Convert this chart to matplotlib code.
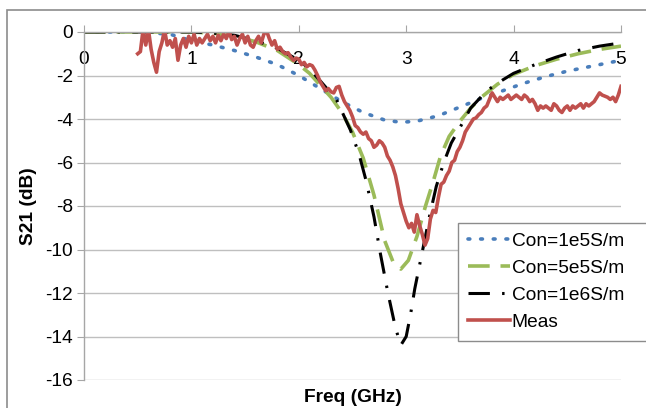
import matplotlib
matplotlib.use("Agg")
import matplotlib.pyplot as plt
from matplotlib.patches import Rectangle
import numpy as np

plt.rcParams['font.family'] = ['Liberation Sans', 'DejaVu Sans']

# simulated curves
f_1e5 = [0, 0.5, 0.8, 1.0, 1.2, 1.4, 1.6, 1.8, 2.0, 2.2, 2.4, 2.6, 2.8, 2.95,
         3.1, 3.3, 3.5, 3.7, 3.9, 4.1, 4.3, 4.5, 4.7, 4.9, 5.0]
s_1e5 = [0, 0, -0.1, -0.4, -0.6, -0.85, -1.15, -1.5, -2.0, -2.6, -3.2, -3.7,
         -4.05, -4.15, -4.1, -3.85, -3.45, -3.05, -2.7, -2.35, -2.05, -1.8,
         -1.6, -1.4, -1.3]

f_5e5 = [0, 1.0, 1.2, 1.4, 1.6, 1.8, 2.0, 2.1, 2.2, 2.3, 2.4, 2.5, 2.6, 2.7,
         2.8, 2.88, 2.95, 3.02, 3.1, 3.18, 3.25, 3.32, 3.4, 3.5, 3.6, 3.7,
         3.85, 4.0, 4.2, 4.4, 4.6, 4.8, 5.0]
s_5e5 = [0, 0, -0.05, -0.2, -0.45, -0.85, -1.5, -1.9, -2.45, -3.0, -3.7,
         -4.6, -5.8, -7.5, -9.6, -10.6, -10.9, -10.5, -9.4, -8.0, -6.9, -5.7,
         -4.8, -4.1, -3.5, -3.0, -2.4, -1.95, -1.55, -1.25, -1.0, -0.8, -0.65]

f_1e6 = [0, 1.0, 1.2, 1.4, 1.6, 1.8, 2.0, 2.1, 2.2, 2.35, 2.48, 2.56, 2.63,
         2.7, 2.76, 2.83, 2.9, 2.95, 3.0, 3.04, 3.08, 3.15, 3.22, 3.28, 3.35,
         3.42, 3.5, 3.6, 3.75, 3.9, 4.0, 4.2, 4.4, 4.6, 4.8, 5.0]
s_1e6 = [0, 0, -0.05, -0.15, -0.4, -0.75, -1.3, -1.7, -2.25, -3.1, -4.5,
         -5.6, -6.9, -8.5, -10.2, -12.0, -13.6, -14.4, -14.0, -13.0, -11.8,
         -10.1, -8.4, -7.1, -6.0, -5.1, -4.4, -3.5, -2.7, -2.2, -1.9, -1.5,
         -1.15, -0.85, -0.65, -0.5]

# measurement, 0.5 .. 5 GHz sweep, 25 MHz step
s_meas = [
    -1.0, -0.9, 0.1, -0.6, 0.1, -0.8, -1.4, -1.85, -0.9, -0.5,
    0.1, -0.6, -0.4, -0.7, -0.3, -1.3, -0.6, -0.3, -0.7, -0.2,
    -0.5, -0.1, -0.6, -0.3, -0.5, -0.3, -0.1, -0.4, -0.2, -0.5,
    -0.15, -0.4, -0.1, -0.3, 0.05, -0.35, -0.2, -0.6, -0.3, -0.1,
    -0.5, -0.2, -0.6, -0.7, -0.4, -0.2, -0.5, -0.1, 0.05, -0.3,
    -0.6, -0.4, -0.8, -0.7, -0.9, -1.0, -0.95, -1.15, -1.3, -1.2,
    -1.25, -1.5, -1.4, -1.6, -1.5, -1.55, -1.75, -2.0, -2.3, -2.5,
    -2.7, -2.6, -2.75, -2.8, -2.55, -2.5, -2.9, -3.2, -3.4, -3.6,
    -3.9, -4.3, -4.4, -4.6, -4.7, -4.6, -4.9, -5.0, -5.3, -5.2,
    -5.0, -5.1, -5.3, -5.7, -5.9, -6.2, -6.6, -7.2, -7.9, -8.3,
    -8.7, -9.0, -8.8, -9.2, -8.4, -8.9, -9.3, -9.8, -9.5, -8.6,
    -8.2, -8.3, -7.6, -7.0, -6.9, -6.6, -6.4, -6.0, -5.9, -5.5,
    -5.3, -5.0, -4.6, -4.4, -4.2, -4.0, -3.95, -3.8, -3.7, -3.5,
    -3.4, -3.1, -2.8, -3.0, -3.2, -3.0, -3.1, -3.0, -2.9, -3.1,
    -3.0, -2.9, -3.0, -3.1, -2.9, -3.0, -3.2, -3.1, -3.3, -3.6,
    -3.4, -3.5, -3.4, -3.5, -3.6, -3.3, -3.4, -3.6, -3.7, -3.5,
    -3.4, -3.6, -3.4, -3.5, -3.4, -3.3, -3.5, -3.3, -3.4, -3.3,
    -3.2, -3.0, -2.8, -2.9, -2.95, -3.0, -3.1, -3.0, -3.2, -2.9,
    -2.5]
f_meas = np.linspace(0.5, 5.0, len(s_meas))

xticks = [0, 1, 2, 3, 4, 5]
yticks = [0, -2, -4, -6, -8, -10, -12, -14, -16]

W, H = 646, 408
fs = 13.8
fig = plt.figure(figsize=(W / 100, H / 100), dpi=100, facecolor='w')
# outer chart frame (only left/top edges fall inside the picture)
fig.patches.append(Rectangle((7 / W, -0.05), 1.2, 1 - 10 / H + 0.05,
                             transform=fig.transFigure, fill=False,
                             ec='#8c8c8c', lw=1.2))

ax = fig.add_axes([84 / W, 1 - 380 / H, 537 / W, 348 / H])
ax.set_xlim(0, 5)
ax.set_ylim(-16, 0)

grey = '#bfbfbf'
ax.yaxis.grid(True, color=grey, lw=1)
ax.set_axisbelow(True)
for s in ['right', 'bottom']:
    ax.spines[s].set_visible(False)
for s in ['left', 'top']:
    ax.spines[s].set_color('#a6a6a6')
    ax.spines[s].set_linewidth(1)

ax.set_xticks(xticks)
ax.set_yticks(yticks)
ax.set_yticklabels([str(v) for v in yticks])
ax.xaxis.set_ticks_position('top')
ax.tick_params(axis='x', direction='out', length=5, color='#a6a6a6',
               labelsize=fs, pad=-31)
ax.tick_params(axis='y', direction='out', length=5, color='#a6a6a6',
               labelsize=fs, pad=3)

ax.plot(f_1e5, s_1e5, ls=(0, (0.5, 3.0)), dash_capstyle='round',
        color='#4a7ebb', lw=2.6, label='Con=1e5S/m')
ax.plot(f_5e5, s_5e5, ls=(0, (6, 3)), color='#9bbb59', lw=2.6,
        label='Con=5e5S/m')
ax.plot(f_1e6, s_1e6, ls=(0, (7, 4, 0.8, 4)), color='black', lw=2.2,
        label='Con=1e6S/m')
ax.plot(f_meas, s_meas, color='#c0504d', lw=2.6, label='Meas')

ax.set_xlabel('Freq (GHz)', fontsize=fs, fontweight='bold')
ax.xaxis.set_label_position('bottom')
ax.xaxis.set_label_coords(0.5, -0.025, transform=ax.transAxes)
ax.xaxis.label.set_va('top')
ax.set_ylabel('S21 (dB)', fontsize=fs, fontweight='bold', labelpad=6)

leg = ax.legend(loc='upper left',
                bbox_to_anchor=(458 / W, 1 - 337 / H, 200 / W, 114 / H),
                bbox_transform=fig.transFigure, mode='expand', fontsize=fs,
                handlelength=2.2, handletextpad=0.1, labelspacing=0.5,
                borderpad=0.5, borderaxespad=0, fancybox=False,
                framealpha=1)
leg.get_frame().set_edgecolor('#8c8c8c')
leg.get_frame().set_linewidth(1)

fig.savefig('out.png', dpi=100)
